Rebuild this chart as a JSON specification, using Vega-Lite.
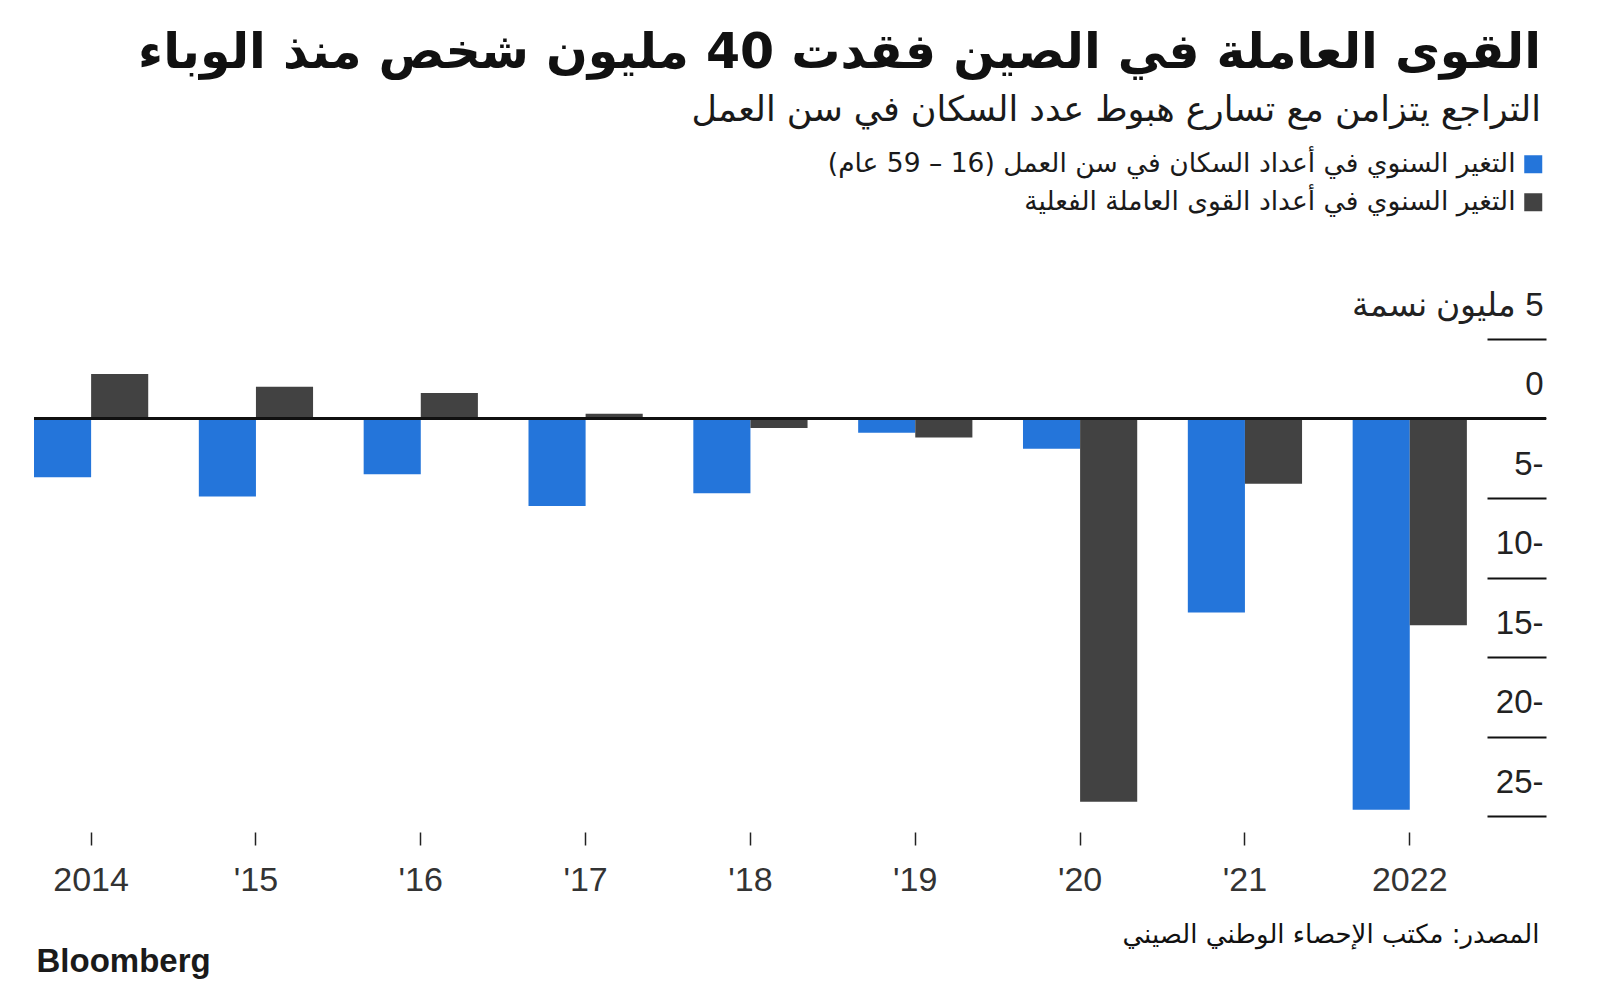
{
  "$schema": "https://vega.github.io/schema/vega-lite/v6.json",
  "autosize": {"type": "none"},
  "width": 1512,
  "height": 477,
  "padding": {"left": 34, "top": 339, "right": 54, "bottom": 177},
  "background": "white",
  "config": {"view": {"stroke": null}},
  "title": {
    "text": "‏القوى العاملة في الصين فقدت 40 مليون شخص منذ الوباء‏",
    "subtitle": "‏التراجع يتزامن مع تسارع هبوط عدد السكان في سن العمل‏",
    "anchor": "end",
    "frame": "group",
    "orient": "top",
    "offset": 23,
    "dx": -5,
    "font": "DejaVu Sans",
    "fontSize": 49,
    "fontWeight": "bold",
    "color": "#111111",
    "subtitleFont": "DejaVu Sans",
    "subtitleFontSize": 35,
    "subtitleColor": "#1a1a1a",
    "subtitlePadding": 15
  },
  "data": {
    "values": [
      {"year": "2014", "series": "التغير السنوي في أعداد السكان في سن العمل (16 – 59 عام)", "value": -3.7},
      {"year": "2014", "series": "التغير السنوي في أعداد القوى العاملة الفعلية", "value": 2.8},
      {"year": "2015", "series": "التغير السنوي في أعداد السكان في سن العمل (16 – 59 عام)", "value": -4.9},
      {"year": "2015", "series": "التغير السنوي في أعداد القوى العاملة الفعلية", "value": 2.0},
      {"year": "2016", "series": "التغير السنوي في أعداد السكان في سن العمل (16 – 59 عام)", "value": -3.5},
      {"year": "2016", "series": "التغير السنوي في أعداد القوى العاملة الفعلية", "value": 1.6},
      {"year": "2017", "series": "التغير السنوي في أعداد السكان في سن العمل (16 – 59 عام)", "value": -5.5},
      {"year": "2017", "series": "التغير السنوي في أعداد القوى العاملة الفعلية", "value": 0.3},
      {"year": "2018", "series": "التغير السنوي في أعداد السكان في سن العمل (16 – 59 عام)", "value": -4.7},
      {"year": "2018", "series": "التغير السنوي في أعداد القوى العاملة الفعلية", "value": -0.6},
      {"year": "2019", "series": "التغير السنوي في أعداد السكان في سن العمل (16 – 59 عام)", "value": -0.9},
      {"year": "2019", "series": "التغير السنوي في أعداد القوى العاملة الفعلية", "value": -1.2},
      {"year": "2020", "series": "التغير السنوي في أعداد السكان في سن العمل (16 – 59 عام)", "value": -1.9},
      {"year": "2020", "series": "التغير السنوي في أعداد القوى العاملة الفعلية", "value": -24.1},
      {"year": "2021", "series": "التغير السنوي في أعداد السكان في سن العمل (16 – 59 عام)", "value": -12.2},
      {"year": "2021", "series": "التغير السنوي في أعداد القوى العاملة الفعلية", "value": -4.1},
      {"year": "2022", "series": "التغير السنوي في أعداد السكان في سن العمل (16 – 59 عام)", "value": -24.6},
      {"year": "2022", "series": "التغير السنوي في أعداد القوى العاملة الفعلية", "value": -13.0}
    ]
  },
  "resolve": {"axis": {"y": "independent"}},
  "layer": [
    {
      "mark": {"type": "bar", "cornerRadius": 0},
      "encoding": {
        "x": {
          "field": "year",
          "type": "ordinal",
          "scale": {"paddingInner": 0.307, "paddingOuter": 0.24, "align": 0},
          "axis": {
            "title": "‏المصدر: مكتب الإحصاء الوطني الصيني‏",
            "titleFont": "DejaVu Sans",
            "titleFontSize": 26,
            "titleFontWeight": "normal",
            "titleColor": "#111111",
            "titleAlign": "right",
            "titleAnchor": null,
            "titleBaseline": "middle",
            "titleX": 1505,
            "titleY": 102,
            "labelAngle": 0,
            "labelExpr": "(datum.value == '2014' || datum.value == '2022') ? datum.value : \"'\" + slice(datum.value, 2)",
            "labelFont": "Liberation Sans",
            "labelFontSize": 34,
            "labelColor": "#333333",
            "labelPadding": 18,
            "domain": false,
            "offset": 16,
            "ticks": true,
            "tickSize": 13,
            "tickColor": "#222222",
            "tickWidth": 1.5
          }
        },
        "xOffset": {
          "field": "series",
          "type": "nominal",
          "sort": [
            "التغير السنوي في أعداد السكان في سن العمل (16 – 59 عام)",
            "التغير السنوي في أعداد القوى العاملة الفعلية"
          ],
          "scale": {"paddingInner": 0, "paddingOuter": 0}
        },
        "y": {
          "field": "value",
          "type": "quantitative",
          "scale": {"domain": [-25, 5], "nice": false, "zero": false},
          "axis": {
            "orient": "right",
            "title": null,
            "values": [5, 0, -5, -10, -15, -20, -25],
            "offset": -59,
            "tickSize": 59,
            "tickColor": "#111111",
            "tickWidth": 2,
            "domain": false,
            "grid": false,
            "labelAlign": "right",
            "labelPadding": -3,
            "labelBaseline": "middle",
            "labelOffset": -34,
            "labelFont": "Liberation Sans",
            "labelFontSize": 33,
            "labelColor": "#222222",
            "labelLimit": 500,
            "labelExpr": "datum.value == 5 ? '‏5 مليون نسمة' : (datum.value == 0 ? '0' : (-datum.value) + '-')"
          }
        },
        "color": {
          "field": "series",
          "type": "nominal",
          "scale": {
            "domain": [
              "التغير السنوي في أعداد السكان في سن العمل (16 – 59 عام)",
              "التغير السنوي في أعداد القوى العاملة الفعلية"
            ],
            "range": ["#2475da", "#424242"]
          },
          "legend": {
            "title": null,
            "orient": "none",
            "legendX": 1486,
            "legendY": -188,
            "direction": "vertical",
            "symbolType": "square",
            "symbolSize": 324,
            "symbolStrokeWidth": 0,
            "labelAlign": "right",
            "labelOffset": -31,
            "labelFont": "DejaVu Sans",
            "labelFontSize": 26.5,
            "labelColor": "#1a1a1a",
            "labelLimit": 1200,
            "rowPadding": 11,
            "labelExpr": "'‏' + datum.label + '‏'"
          }
        }
      }
    },
    {
      "mark": {"type": "rule", "color": "#111111", "strokeWidth": 2},
      "encoding": {
        "y": {
          "datum": 0,
          "type": "quantitative",
          "axis": {
            "orient": "left",
            "title": "Bloomberg",
            "titleAngle": 0,
            "titleAlign": "left",
            "titleBaseline": "middle",
            "titleX": 2,
            "titleY": 622,
            "titleFont": "Liberation Sans",
            "titleFontSize": 33,
            "titleFontWeight": "bold",
            "titleColor": "#1a1a1a",
            "labels": false,
            "ticks": false,
            "domain": false,
            "grid": false
          }
        }
      }
    }
  ]
}
